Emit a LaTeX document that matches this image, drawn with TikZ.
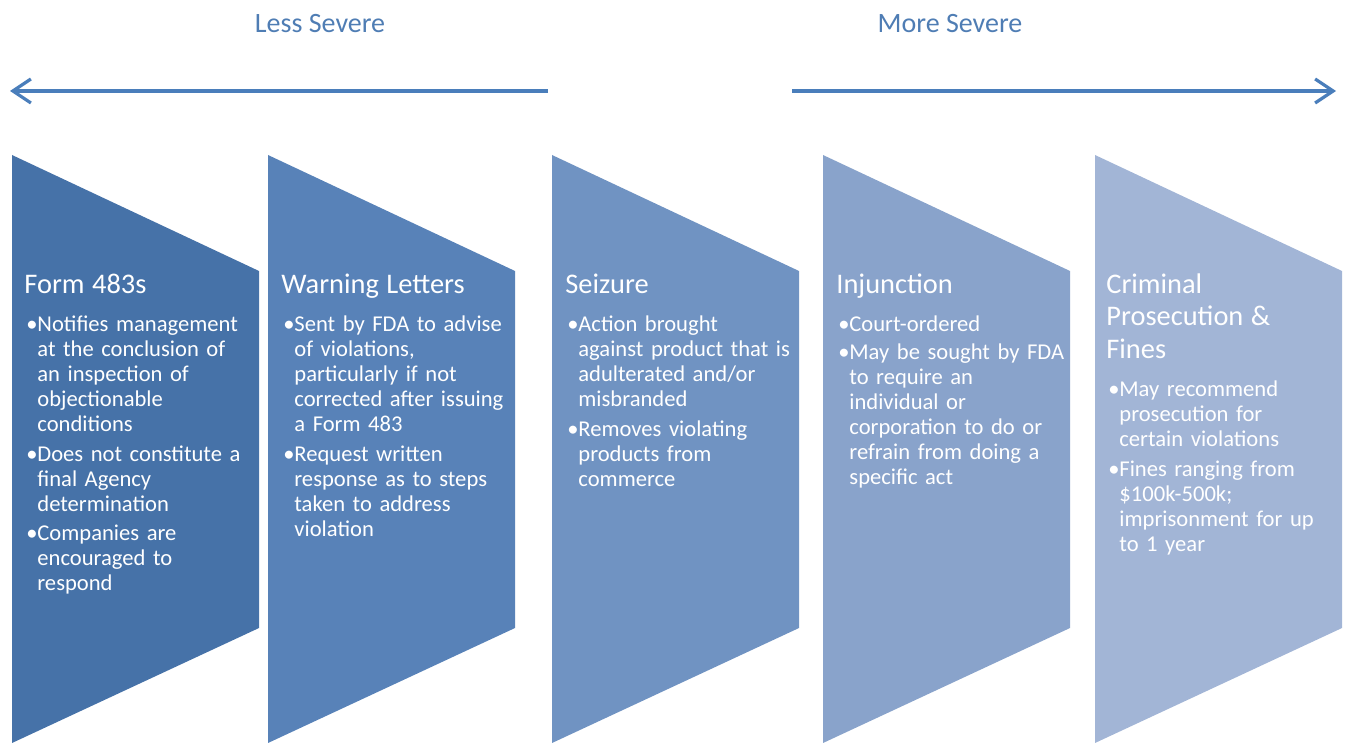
\documentclass[tikz,border=0pt]{standalone}
\usepackage{fontspec}
\setmainfont{Carlito}
\usepackage{tikz}
\usetikzlibrary{arrows.meta}
\definecolor{stepA}{RGB}{70,114,168}
\definecolor{stepB}{RGB}{88,130,184}
\definecolor{stepC}{RGB}{112,147,194}
\definecolor{stepD}{RGB}{137,163,203}
\definecolor{stepE}{RGB}{162,181,214}
\definecolor{sevblue}{RGB}{74,126,187}
\definecolor{sevtext}{RGB}{79,125,180}
\newcommand{\ttl}[1]{{\fontsize{14.2}{16.25}\selectfont #1\par}\vspace{5.5pt}}
\newcommand{\bul}[1]{\par\vspace{1.3pt}\noindent\hspace{1pt}\makebox[5.5pt][l]{\textbullet}%
  \begin{tabular}[t]{@{}l@{}}#1\end{tabular}\par}

\begin{document}
\begin{tikzpicture}[x=0.5pt, y=-0.5pt,
    sevarrow/.style={draw=sevblue, line width=1.6pt, -{Straight Barb[length=9pt,width=12pt]}},
    sevlabel/.style={text=sevtext, font=\fontsize{14}{16}\selectfont},
    txt/.style={anchor=base west, text=white, text width=122pt, align=left,
      inner sep=0pt, font=\fontsize{11.3}{12.5}\selectfont}]
  \useasboundingbox (0,0) rectangle (1348,743);
  % chevrons, darkest = least severe
  \foreach \x/\c in {12/stepA, 268/stepB, 552/stepC, 823/stepD, 1095/stepE}
    \fill[\c] (\x,155) -- ++(247,116) -- ++(0,357) -- ++(-247,115) -- cycle;

  % severity scale
  \node[sevlabel] (less) at (320,24) {Less Severe};
  \node[sevlabel] (more) at (950,24) {More Severe};
  \coordinate (less-a) at (548,91);
  \coordinate (less-b) at (10,91);
  \coordinate (more-a) at (792,91);
  \coordinate (more-b) at (1336,91);
  \draw[sevarrow] (less-a) -- (less-b);
  \draw[sevarrow] (more-a) -- (more-b);

  \node[txt] (form) at (24,293) {\ttl{Form 483s}%
    \bul{Notifies management\\ at the conclusion of\\ an inspection of\\ objectionable\\ conditions}%
    \bul{Does not constitute a\\ final Agency\\ determination}%
    \bul{Companies are\\ encouraged to\\ respond}};
  \node[txt] (warn) at (281,293) {\ttl{Warning Letters}%
    \bul{Sent by FDA to advise\\ of violations,\\ particularly if not\\ corrected after issuing\\ a Form 483}%
    \bul{Request written\\ response as to steps\\ taken to address\\ violation}};
  \node[txt] (seiz) at (565,293) {\ttl{Seizure}%
    \bul{Action brought\\ against product that is\\ adulterated and/or\\ misbranded}%
    \bul{Removes violating\\ products from\\ commerce}};
  \node[txt] (inj) at (836,293) {\ttl{Injunction}%
    \bul{Court-ordered}%
    \bul{May be sought by FDA\\ to require an\\ individual or\\ corporation to do or\\ refrain from doing a\\ specific act}};
  \node[txt] (crim) at (1106,293) {\ttl{Criminal\newline Prosecution \&\newline Fines}%
    \bul{May recommend\\ prosecution for\\ certain violations}%
    \bul{Fines ranging from\\ \$100k-500k;\\ imprisonment for up\\ to 1 year}};
\end{tikzpicture}
\end{document}
